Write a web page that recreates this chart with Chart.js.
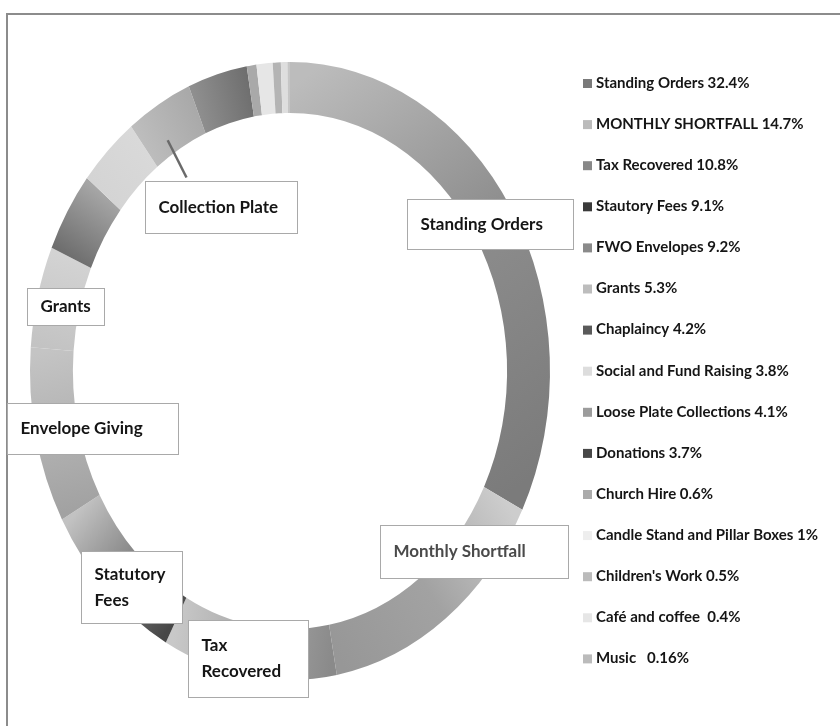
<!DOCTYPE html>
<html>
<head>
<meta charset="utf-8">
<script src="https://cdn.jsdelivr.net/npm/chart.js@4.4.1/dist/chart.umd.min.js"></script>
<style>
  html, body { margin: 0; padding: 0; background: #fff; }
  #wrap { position: relative; width: 840px; height: 726px; overflow: hidden; }
  #frame { position: absolute; left: 6px; top: 13px; width: 900px; height: 800px;
    border-top: 2px solid #8c8c8c; border-left: 2px solid #8c8c8c; }
  canvas { position: absolute; left: 0; top: 0; }
</style>
</head>
<body>
<div id="wrap">
  <div id="frame"></div>
  <canvas id="income-doughnut" width="840" height="726"></canvas>
</div>
<script>
// slices, clockwise from 12 o'clock (legend order)
const categories = [
  "Standing Orders", "MONTHLY SHORTFALL", "Tax Recovered", "Stautory Fees",
  "FWO Envelopes", "Grants", "Chaplaincy", "Social and Fund Raising",
  "Loose Plate Collections", "Donations", "Church Hire",
  "Candle Stand and Pillar Boxes", "Children's Work", "Café and coffee ", "Music  "
];
const shares = [32.4, 14.7, 10.8, 9.1, 9.2, 5.3, 4.2, 3.8, 4.1, 3.7, 0.6, 1, 0.5, 0.4, 0.16];
// boxed labels on the ring (null = no label)
const calloutText = [
  "Standing Orders", "Monthly Shortfall", "Tax\nRecovered", "Statutory\nFees",
  "Envelope Giving", "Grants", null, null, "Collection Plate", null,
  null, null, null, null, null
];

// styles
const sliceShades = [
  ["#bcbcbc", "#8c8c8c", "#7b7b7b"], ["#cdcdcd", "#a2a2a2", "#979797"], ["#8a8a8a", "#c8c8c8"],
  ["#474747", "#c2c2c2"], ["#a2a2a2", "#c4c4c4"], ["#c3c3c3", "#d3d3d3"],
  ["#6e6e6e", "#a6a6a6"], ["#d4d4d4", "#d9d9d9"], ["#bdbdbd", "#a9a9a9"],
  ["#8f8f8f", "#6f6f6f"], ["#a9a9a9"], ["#e6e6e6"],
  ["#b4b4b4"], ["#dedede"], ["#c6c6c6"]
];
const swatchColors = [
  "#7a7a7a", "#bbbbbb", "#888888", "#3a3a3a", "#8a8a8a", "#bdbdbd", "#5a5a5a",
  "#dddddd", "#9c9c9c", "#474747", "#ababab", "#eeeeee", "#bbbbbb", "#e6e6e6", "#bbbbbb"
];
const stretchY = 309 / 260; // scanned chart is taller than wide
const calloutBoxes = {
  0: { dx: -3, dy: 2, w: 166, h: 50 },
  1: { dx: 41, dy: -46, w: 188, h: 53, color: "#4a4a4a" },
  2: { dx: -4, dy: 8, w: 120, h: 77 },
  3: { dx: 10, dy: 15, w: 101, h: 72 },
  4: { dx: 36, dy: -2, w: 171, h: 51 },
  5: { dx: 7, dy: 4, w: 77, h: 37 },
  8: { dx: 51, dy: 81, w: 152, h: 52, leader: true }
};

const ctx = document.getElementById("income-doughnut");

// gradient fills + vertical stretch of the ring
const ellipse = {
  id: "ellipse",
  beforeDatasetsDraw(chart) {
    const c = chart.ctx;
    const arcs = chart.getDatasetMeta(0).data;
    const cx = arcs[0].x, cy = arcs[0].y;
    arcs.forEach((arc, i) => {
      const stops = sliceShades[i];
      let fill = stops[0];
      if (stops.length > 1) {
        const r = (arc.innerRadius + arc.outerRadius) / 2;
        fill = c.createLinearGradient(
          cx + r * Math.cos(arc.startAngle), cy + r * Math.sin(arc.startAngle),
          cx + r * Math.cos(arc.endAngle), cy + r * Math.sin(arc.endAngle));
        stops.forEach((col, k) => fill.addColorStop(k / (stops.length - 1), col));
      }
      arc.options = Object.assign({}, arc.options, { backgroundColor: fill });
    });
    c.save();
    c.translate(cx, cy);
    c.scale(1, stretchY);
    c.translate(-cx, -cy);
  },
  afterDatasetsDraw(chart) {
    chart.ctx.restore();
  }
};

// boxed data labels
const callouts = {
  id: "callouts",
  afterDraw(chart) {
    const c = chart.ctx;
    const arcs = chart.getDatasetMeta(0).data;
    const cx = arcs[0].x, cy = arcs[0].y;
    c.save();
    calloutText.forEach((txt, i) => {
      if (!txt) return;
      const arc = arcs[i];
      const box = calloutBoxes[i];
      const a = (arc.startAngle + arc.endAngle) / 2;
      const r = (arc.innerRadius + arc.outerRadius) / 2;
      const ax = cx + r * Math.cos(a);
      const ay = cy + r * Math.sin(a) * stretchY;
      const left = Math.round(ax + box.dx - box.w / 2) + 0.5;
      const top = Math.round(ay + box.dy - box.h / 2) + 0.5;
      if (box.leader) {
        c.strokeStyle = "#6a6a6a";
        c.lineWidth = 2.5;
        c.beginPath();
        c.moveTo(ax - 2, ay + 14);
        c.lineTo(left + 41, top - 4);
        c.stroke();
      }
      c.fillStyle = "#ffffff";
      c.fillRect(left, top, box.w, box.h);
      c.strokeStyle = "#a9a9a9";
      c.lineWidth = 1;
      c.strokeRect(left, top, box.w, box.h);
      const lines = txt.split("\n");
      const lh = 26;
      c.font = "bold 17px Lato";
      c.fillStyle = box.color || "#151515";
      c.textAlign = "left";
      c.textBaseline = "middle";
      const y0 = top + box.h / 2 - (lines.length - 1) * lh / 2;
      lines.forEach((ln, k) => c.fillText(ln, left + 13, y0 + k * lh));
    });
    c.restore();
  }
};

// legend on the right
const sideLegend = {
  id: "sideLegend",
  afterDraw(chart) {
    const c = chart.ctx;
    c.save();
    c.font = "bold 15px Lato";
    c.textAlign = "left";
    c.textBaseline = "middle";
    categories.forEach((name, i) => {
      const y = 83 + i * 41.1;
      c.fillStyle = swatchColors[i];
      c.fillRect(583, y - 4, 9, 9);
      c.fillStyle = "#151515";
      c.fillText(name + " " + shares[i] + "%", 596, y);
    });
    c.restore();
  }
};

new Chart(ctx, {
  type: "doughnut",
  data: {
    labels: categories,
    datasets: [
      {
        data: shares,
        backgroundColor: sliceShades.map((s) => s[0]),
        borderWidth: 0,
      },
    ],
  },
  options: {
    responsive: false,
    animation: false,
    devicePixelRatio: 1,
    cutout: "83.5%",
    layout: {
      padding: { left: 30, right: 290, top: 111, bottom: 95 },
    },
    plugins: {
      legend: { display: false },
      tooltip: { enabled: false },
    },
  },
  plugins: [ellipse, callouts, sideLegend],
});
</script>
</body>
</html>
